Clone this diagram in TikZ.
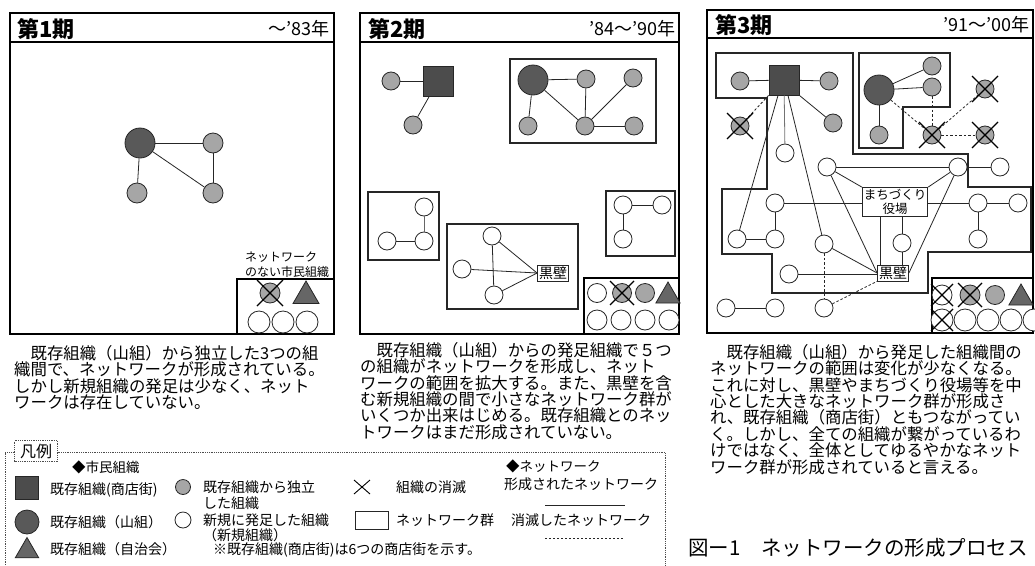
\documentclass[tikz,border=0pt]{standalone}
\usepackage{fontspec}
\setmainfont{Noto Sans CJK JP}
\usetikzlibrary{shapes.geometric}
\newcommand\crossnode[2]{\draw[xline] ([shift={(-#2,-#2)}]#1.center) -- ([shift={(#2,#2)}]#1.center) ([shift={(-#2,#2)}]#1.center) -- ([shift={(#2,-#2)}]#1.center);}
\begin{document}
\begin{tikzpicture}[x=1pt,y=-1pt,
  every node/.style={inner sep=0pt},
  panel/.style={draw=black, line width=1.3pt},
  grp/.style={draw=black!85, line width=1.1pt},
  conn/.style={draw=black!85, line width=0.8pt},
  gone/.style={conn, dash pattern=on 2.5pt off 2pt},
  neworg/.style={circle, draw=black!85, line width=0.8pt, fill=white, minimum size=18pt},
  indep/.style={neworg, fill=black!35},
  yama/.style={circle, draw=black!85, line width=0.8pt, fill=black!65, minimum size=30pt},
  shoten/.style={rectangle, draw=black!85, line width=0.8pt, fill=black!70, minimum size=30pt},
  jichi/.style={regular polygon, regular polygon sides=3, draw=black!85, line width=0.8pt, fill=black!60, minimum size=30pt},
  labelbox/.style={rectangle, draw=black!85, fill=white, line width=0.8pt, align=center, inner sep=1.5pt},
  xline/.style={line width=1.1pt, black},
  captext/.style={anchor=north west, align=left, font=\fontsize{16.4}{16.4}\selectfont},
  hd/.style={font=\fontsize{22}{22}\selectfont\bfseries, anchor=west},
  yr/.style={font=\fontsize{18}{18}\selectfont, anchor=east},
  smalltext/.style={font=\fontsize{12}{12}\selectfont},
  leg/.style={font=\fontsize{14}{15.5}\selectfont, anchor=west, align=left}
]
\useasboundingbox (0,0) rectangle (1035,565);
\fill[white] (0,0) rectangle (1035,565);

% ================= Panel 1 =================
\draw[panel] (10,13) rectangle (334,334);
\draw[panel] (10,42) -- (334,42);
\node[hd] (t1) at (17,29) {第1期};
\node[yr] (r1) at (330,29) {～'83年};
\node[yama] (p1y) at (140,143) {};
\node[indep, minimum size=20pt] (p1a) at (213,143) {};
\node[indep, minimum size=20pt] (p1b) at (137,193) {};
\node[indep, minimum size=20pt] (p1c) at (213,193) {};
\draw[conn] (p1y) -- (p1a);
\draw[conn] (p1y) -- (p1b);
\draw[conn] (p1y) -- (p1c);
\draw[conn] (p1a) -- (p1c);
\node[smalltext, anchor=west] (p1t1) at (245,257) {ネットワーク};
\node[smalltext, anchor=west] (p1t2) at (245,272) {のない市民組織};
\draw[panel, line width=1.1pt] (237,279) rectangle (334,334);
\node[indep, minimum size=20pt] (p1x) at (270,293) {};
\crossnode{p1x}{13}
\node[jichi] (p1j) at (306,296) {};
\node[neworg, minimum size=22pt] (p1e) at (259,322) {};
\node[neworg, minimum size=22pt] (p1f) at (283,322) {};
\node[neworg, minimum size=22pt] (p1g) at (307,322) {};

% ================= Panel 2 =================
\draw[panel] (360,13) rectangle (679,334);
\draw[panel] (360,42) -- (679,42);
\node[hd] (t2) at (368,29) {第2期};
\node[yr] (r2) at (676,29) {'84～'90年};
\node[shoten] (q2s) at (438,81) {};
\node[indep] (q2a) at (391,81) {};
\node[indep] (q2b) at (413,125) {};
\draw[conn] (q2a) -- (q2s);
\draw[conn] (q2s) -- (q2b);
\draw[grp] (510,59) rectangle (656,143);
\node[yama] (q2y) at (533,80) {};
\node[indep] (q2c1) at (586,79) {};
\node[indep] (q2c2) at (633,78) {};
\node[indep] (q2c3) at (528,126) {};
\node[indep] (q2c4) at (585,126) {};
\node[indep] (q2c5) at (634,126) {};
\draw[conn] (q2y) -- (q2c1);
\draw[conn] (q2y) -- (q2c3);
\draw[conn] (q2y) -- (q2c4);
\draw[conn] (q2c1) -- (q2c4);
\draw[conn] (q2c4) -- (q2c2);
\draw[conn] (q2c4) -- (q2c5);
\draw[grp] (368,192) rectangle (439,260);
\node[neworg] (q2n1) at (424,207) {};
\node[neworg] (q2n2) at (387,241) {};
\node[neworg] (q2n3) at (424,241) {};
\draw[conn, black!60] (q2n1) -- (q2n3);
\draw[conn] (q2n2) -- (q2n3);
\draw[grp] (447,224) rectangle (578,309);
\node[neworg] (q2m1) at (492,236) {};
\node[neworg] (q2m2) at (462,269) {};
\node[neworg] (q2m3) at (494,295) {};
\node[labelbox, font=\fontsize{14}{14}\selectfont] (q2k) at (553,273) {黒壁};
\draw[conn] (q2m1) -- (q2m3);
\draw[conn] (q2m1) -- (q2k.west);
\draw[conn] (q2m2) -- (q2k.west);
\draw[conn] (q2m3) -- (q2k.west);
\draw[grp] (606,191) rectangle (675,256);
\node[neworg] (q2p1) at (623,205) {};
\node[neworg] (q2p2) at (662,205) {};
\node[neworg] (q2p3) at (623,239) {};
\draw[conn] (q2p1) -- (q2p2);
\draw[conn] (q2p1) -- (q2p3);
\draw[panel, line width=1.1pt] (584,278) rectangle (679,334);
\node[neworg, minimum size=19pt] (q2l1) at (597,293) {};
\node[indep, minimum size=19pt] (q2l2) at (622,293) {};
\crossnode{q2l2}{12}
\node[indep, minimum size=19pt] (q2l3) at (645,293) {};
\node[jichi, minimum size=28pt] (q2l4) at (668,296) {};
\node[neworg, minimum size=20pt] (q2l5) at (597,320) {};
\node[neworg, minimum size=20pt] (q2l6) at (621,320) {};
\node[neworg, minimum size=20pt] (q2l7) at (645,320) {};
\node[neworg, minimum size=20pt] (q2l8) at (669,320) {};

% ================= Panel 3 =================
\draw[panel] (707,10) rectangle (1033,333);
\draw[panel] (707,38) -- (1033,38);
\node[hd] (t3) at (715,25) {第3期};
\node[yr] (r3) at (1030,25) {'91～'00年};
% network groups
\draw[grp] (716,53) -- (853,53) -- (853,154) -- (968,154) -- (968,187) -- (1031,187) -- (1031,252) -- (928,252) -- (928,293) -- (772,293) -- (772,254) -- (722,254) -- (722,189) -- (767,189) -- (767,98) -- (716,98) -- cycle;
\draw[grp] (859,53) -- (950,53) -- (950,107) -- (903,107) -- (903,148) -- (859,148) -- cycle;
% nodes
\node[shoten] (s3) at (784,80) {};
\node[indep] (g1) at (740,81) {};
\node[indep] (g2) at (829,81) {};
\node[indep] (g3) at (833,123) {};
\node[indep] (xg1) at (740,126) {};
\node[neworg] (w1) at (785,153) {};
\node[yama] (y3) at (879,90) {};
\node[indep] (g4) at (932,66) {};
\node[indep] (g5) at (932,87) {};
\node[indep] (g6) at (879,135) {};
\node[indep] (xg2) at (985,89) {};
\node[indep] (xg3) at (932,135) {};
\node[indep] (xg4) at (985,135) {};
\node[neworg] (w2) at (827,167) {};
\node[neworg] (w3) at (958,167) {};
\node[neworg] (w4) at (1000,167) {};
\node[labelbox, font=\fontsize{12.5}{14}\selectfont, minimum width=65pt, minimum height=29pt] (mach) at (895,202) {まちづくり\\役場};
\node[neworg] (w5) at (775,203) {};
\node[neworg] (w6) at (737,239) {};
\node[neworg] (w7) at (775,239) {};
\node[neworg] (w8) at (824,244) {};
\node[neworg] (w9) at (789,274) {};
\node[labelbox, font=\fontsize{14}{14}\selectfont] (kuro) at (893,273) {黒壁};
\node[neworg] (w10) at (902,243) {};
\node[neworg] (w11) at (978,203) {};
\node[neworg] (w12) at (1018,203) {};
\node[neworg] (w13) at (978,239) {};
\node[neworg] (w14) at (726,308) {};
\node[neworg] (w15) at (775,308) {};
\node[neworg] (w16) at (824,308) {};
% edges
\draw[conn] (s3) -- (g1);
\draw[conn] (s3) -- (g2);
\draw[conn] (s3.south east) -- (g3);
\draw[gone] (s3.south west) -- (xg1);
\draw[conn, black!55] (s3) -- (w1);
\draw[conn] ([xshift=-6pt]s3.south) -- (w6);
\draw[conn] ([xshift=4pt]s3.south) -- (w8);
\draw[conn] (y3) -- (g4);
\draw[conn] (y3) -- (g5);
\draw[conn] (y3) -- (g6);
\draw[gone] (y3) -- (xg3);
\draw[gone] (g5) -- (xg3);
\draw[gone] (xg3) -- (xg2);
\draw[gone] (xg3) -- (xg4);
\draw[conn] (w2) -- (w3);
\draw[conn] (w3) -- (w4);
\draw[conn] (w2) -- (mach.north west);
\draw[conn] (w2) -- (kuro.west);
\draw[conn] (w3) -- (mach.north east);
\draw[conn] (w3) -- (kuro.east);
\draw[conn] (w5) -- (w5 -| mach.west);
\draw[conn] (w5) -- (w7);
\draw[conn] (w6) -- (w7);
\draw[conn] (mach.east |- w11) -- (w11);
\draw[conn] (w11) -- (w12);
\draw[conn] (w11) -- (w13);
\draw[conn] ([xshift=-15pt]mach.south) -- ([xshift=-13pt]kuro.north);
\draw[conn] (mach.south -| w10) -- (w10);
\draw[conn] (w10) -- (w10 |- kuro.north);
\draw[conn] (w8) -- (kuro.west);
\draw[conn] (w9) -- (w9 -| kuro.west);
\draw[gone] (w8) -- (w16);
\draw[gone] (w16) -- (kuro.south west);
\draw[conn] (w14) -- (w15);
\crossnode{xg1}{13}
\crossnode{xg2}{13}
\crossnode{xg3}{13}
\crossnode{xg4}{13}
% corner
\draw[panel, line width=1.1pt] (932,278) rectangle (1033,333);
\node[neworg, minimum size=20pt] (c3a) at (942,295) {};
\crossnode{c3a}{11}
\node[indep, minimum size=20pt] (c3b) at (970,295) {};
\crossnode{c3b}{12}
\node[indep, minimum size=19pt] (c3c) at (995,295) {};
\node[jichi, minimum size=28pt] (c3d) at (1021,298) {};
\node[neworg, minimum size=22pt] (c3e) at (942,320) {};
\crossnode{c3e}{11}
\node[neworg, minimum size=22pt] (c3f) at (965,320) {};
\node[neworg, minimum size=22pt] (c3g) at (988,320) {};
\node[neworg, minimum size=22pt] (c3h) at (1011,320) {};
\node[neworg, minimum size=22pt] (c3i) at (1034,320) {};

% ================= Captions =================
\node[captext] (cap1) at (14,345) {　既存組織（山組）から独立した3つの組\\織間で、ネットワークが形成されている。\\しかし新規組織の発足は少なく、ネット\\ワークは存在していない。};
\node[captext] (cap2) at (360,342) {　既存組織（山組）からの発足組織で５つ\\の組織がネットワークを形成し、ネット\\ワークの範囲を拡大する。また、黒壁を含\\む新規組織の間で小さなネットワーク群が\\いくつか出来はじめる。既存組織とのネッ\\トワークはまだ形成されていない。};
\node[captext] (cap3) at (710,344) {　既存組織（山組）から発足した組織間の\\ネットワークの範囲は変化が少なくなる。\\これに対し、黒壁やまちづくり役場等を中\\心とした大きなネットワーク群が形成さ\\れ、既存組織（商店街）ともつながってい\\く。しかし、全ての組織が繋がっているわ\\けではなく、全体としてゆるやかなネット\\ワーク群が形成されていると言える。};

% ================= Legend =================
\draw[black!70, line width=0.8pt, densely dotted] (5,565) -- (5,452) -- (665,452) -- (665,565);
\node[rectangle, draw=black!70, densely dotted, line width=0.8pt, fill=white, font=\fontsize{16}{16}\selectfont, minimum width=43pt, minimum height=21pt] (lgt) at (36,451) {凡例};
\node[leg, font=\fontsize{13.5}{14}\selectfont] (lh1) at (72,467) {◆市民組織};
\node[shoten, minimum size=23pt] (li1) at (27,488) {};
\node[leg] (lt1) at (50,490) {既存組織(商店街)};
\node[yama, minimum size=24pt] (li2) at (27,522) {};
\node[leg] (lt2) at (50,522) {既存組織（山組）};
\node[jichi, minimum size=27pt] (li3) at (27,551) {};
\node[leg] (lt3) at (50,549) {既存組織（自治会）};
\node[indep, minimum size=15pt] (li4) at (183,487) {};
\node[leg] (lt4) at (203,495) {既存組織から独立\\した組織};
\node[neworg, minimum size=16pt] (li5) at (183,520) {};
\node[leg] (lt5) at (203,528) {新規に発足した組織\\（新規組織）};
\node[leg] (lt6) at (213,550) {※既存組織(商店街)は6つの商店街を示す。};
\coordinate (lx) at (362,487);
\draw[line width=0.9pt] ([shift={(-8,-7)}]lx) -- ([shift={(8,7)}]lx) ([shift={(-8,7)}]lx) -- ([shift={(8,-7)}]lx);
\node[leg] (lt7) at (396,487) {組織の消滅};
\node[rectangle, draw=black!85, line width=1pt, minimum width=33pt, minimum height=18pt] (li8) at (372,520) {};
\node[leg] (lt8) at (396,520) {ネットワーク群};
\node[leg, font=\fontsize{13.5}{14}\selectfont] (lh2) at (506,466) {◆ネットワーク};
\node[leg] (lt9) at (504,484) {形成されたネットワーク};
\coordinate (ls1) at (545,505);
\coordinate (ls2) at (625,505);
\draw[conn] (ls1) -- (ls2);
\node[leg] (lt10) at (511,520) {消滅したネットワーク};
\coordinate (ld1) at (545,538);
\coordinate (ld2) at (625,538);
\draw[conn, dash pattern=on 1.5pt off 2.5pt] (ld1) -- (ld2);

% ================= Title =================
\node[font=\fontsize{20.5}{20.5}\selectfont, anchor=west] (title) at (688,548) {図ー1　ネットワークの形成プロセス};
\end{tikzpicture}
\end{document}
